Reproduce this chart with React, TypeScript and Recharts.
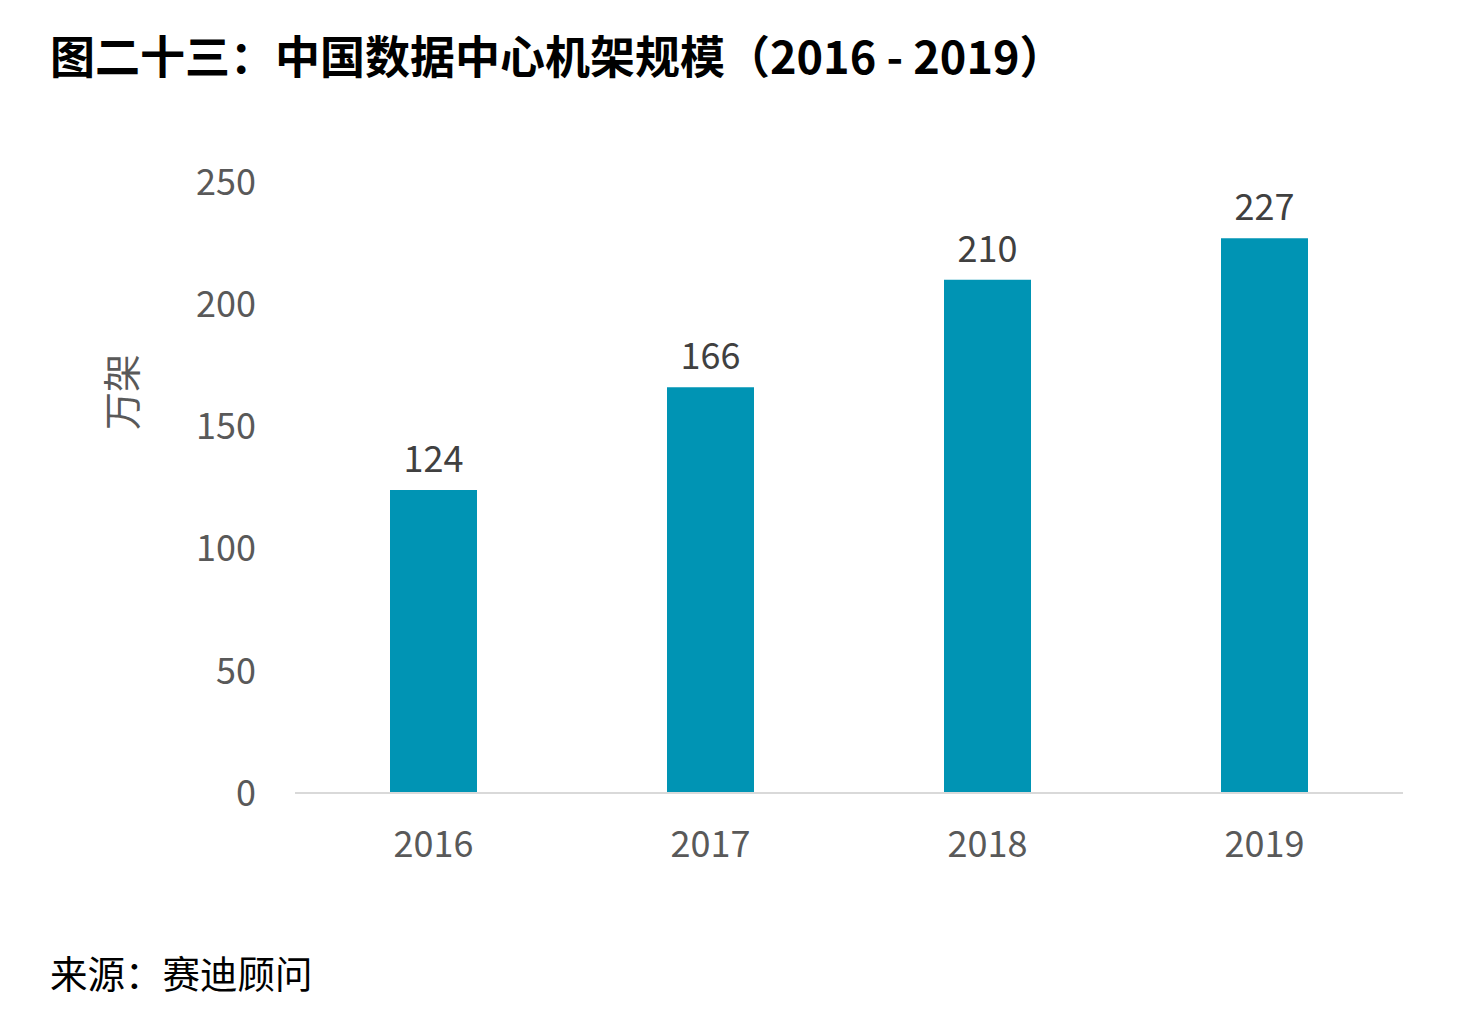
import React from 'react';
import { BarChart, Bar, XAxis, YAxis, LabelList } from 'recharts';

const years = ['2016', '2017', '2018', '2019'];
const racks = [124, 166, 210, 227];
const yTicks = [0, 50, 100, 150, 200, 250];

const data = years.map((y, i) => ({ year: y, value: racks[i] }));

const FONT = '"Noto Sans CJK SC", "Noto Sans", sans-serif';

export default function App() {
  return (
    <div style={{ position: 'relative', width: 1447, height: 1013, fontFamily: FONT, background: '#fff' }}>
      <div style={{ position: 'absolute', left: 42, top: 24, fontSize: 45, fontWeight: 700, lineHeight: 1, color: '#000', whiteSpace: 'nowrap' }}>
        图二十三：中国数据中心机架规模（2016 - 2019）
      </div>
      <div
        style={{
          position: 'absolute', left: 112, top: 384, fontSize: 38, lineHeight: 1, color: '#595959',
          transform: 'translate(-50%, -50%) rotate(-90deg)', whiteSpace: 'nowrap',
        }}
      >
        万架
      </div>
      <div style={{ position: 'absolute', left: 42, top: 945, fontSize: 37.5, lineHeight: 1, color: '#000', whiteSpace: 'nowrap' }}>
        来源：赛迪顾问
      </div>
      <BarChart
        width={1447}
        height={1013}
        data={data}
        margin={{ top: 174, right: 52, bottom: 0, left: 0 }}
        style={{ position: 'absolute', left: 0, top: 0 }}
      >
        <XAxis
          dataKey="year"
          height={228}
          tickLine={false}
          tickSize={0}
          tickMargin={38}
          axisLine={{ stroke: '#d9d9d9', strokeWidth: 2 }}
          tick={{ fill: '#595959', fontSize: 36, fontFamily: FONT }}
        />
        <YAxis
          width={287}
          domain={[0, 250]}
          ticks={yTicks}
          interval={0}
          axisLine={false}
          tickLine={false}
          tickSize={0}
          tickMargin={39}
          tick={{ fill: '#595959', fontSize: 36, fontFamily: FONT }}
        />
        <Bar dataKey="value" fill="#0094b4" barSize={87} isAnimationActive={false}>
          <LabelList dataKey="value" position="top" offset={18} fill="#404040" fontSize={36} fontFamily={FONT} />
        </Bar>
      </BarChart>
    </div>
  );
}
